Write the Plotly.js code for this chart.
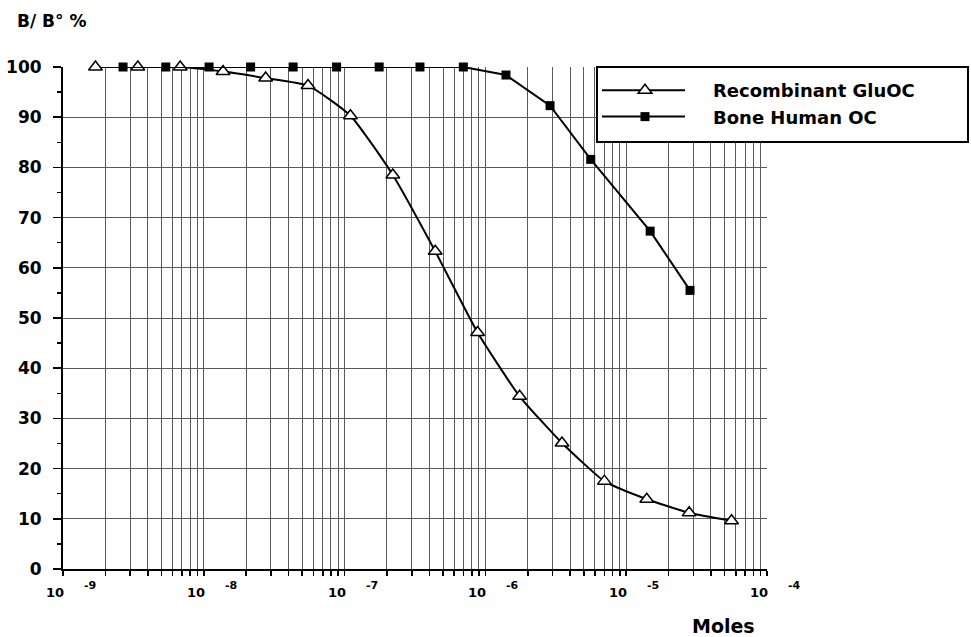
<!DOCTYPE html>
<html><head><meta charset="utf-8">
<script src="https://cdn.plot.ly/plotly-3.0.1.min.js"></script>
<style>html,body{margin:0;padding:0;background:#fff}</style>
</head><body><div id="chart" style="width:971px;height:637px"></div>
<script>
// ---- data ----
const recombX = [1.7e-9, 3.4e-9, 6.8e-9, 1.37e-8, 2.75e-8, 5.5e-8, 1.1e-7, 2.2e-7, 4.4e-7, 8.8e-7, 1.75e-6, 3.5e-6, 7.0e-6, 1.4e-5, 2.8e-5, 5.6e-5];
const recombY = [100, 100, 100, 99.1, 97.8, 96.3, 90.3, 78.5, 63.3, 47.1, 34.4, 25.1, 17.5, 13.9, 11.2, 9.6];
const boneX = [2.67e-9, 5.37e-9, 1.09e-8, 2.15e-8, 4.31e-8, 8.77e-8, 1.76e-7, 3.43e-7, 6.97e-7, 1.40e-6, 2.88e-6, 5.6e-6, 1.48e-5, 2.84e-5];
const boneY = [100, 100, 100, 100, 100, 100, 100, 100, 100, 98.4, 92.3, 81.6, 67.3, 55.5];
const seriesNames = ['Recombinant GluOC', 'Bone Human OC'];
const decadeExps = [-9, -8, -7, -6, -5, -4];
const decadeBase = '10';
const decadeExpText = ['-9', '-8', '-7', '-6', '-5', '-4'];
const yTickVals = [0, 10, 20, 30, 40, 50, 60, 70, 80, 90, 100];
const yTitleText = 'B/ B° %';
const xTitleText = 'Moles';

const FF = 'DejaVu Sans';
// grid positions on the log axis (every 1..9 within each decade)
const gridVals = [];
for (let i = 0; i < decadeExps.length - 1; i++) {
  for (let m = 1; m <= 9; m++) gridVals.push(m * Math.pow(10, decadeExps[i]));
}
gridVals.push(Math.pow(10, decadeExps[decadeExps.length - 1]));

const traces = [
  {
    x: recombX, y: recombY, name: seriesNames[0], type: 'scatter', mode: 'lines+markers', cliponaxis: false,
    line: {color: '#000', width: 2, shape: 'spline', smoothing: 0.5},
    marker: {symbol: 'triangle-up', size: 12, color: '#fff', line: {color: '#000', width: 1.5}}
  },
  {
    x: boneX, y: boneY, name: seriesNames[1], type: 'scatter', mode: 'lines+markers', cliponaxis: false,
    line: {color: '#000', width: 2},
    marker: {symbol: 'square', size: 9, color: '#000', line: {color: '#000', width: 0}}
  }
];

const annotations = [];
decadeExps.forEach((e, i) => {
  annotations.push({xref: 'x', yref: 'paper', x: e, y: -0.046, text: decadeBase, showarrow: false,
    xanchor: 'right', yanchor: 'middle', xshift: 3, font: {family: FF, size: 13, weight: 'bold', color: '#000'}});
  annotations.push({xref: 'x', yref: 'paper', x: e, y: -0.032, text: decadeExpText[i], showarrow: false,
    xanchor: 'left', yanchor: 'middle', xshift: 19, font: {family: FF, size: 11, weight: 'bold', color: '#000'}});
});
annotations.push({xref: 'paper', yref: 'paper', x: -0.068, y: 1.092, text: yTitleText, showarrow: false,
  xanchor: 'left', yanchor: 'middle', font: {family: FF, size: 17, weight: 'bold', color: '#000'}});
annotations.push({xref: 'paper', yref: 'paper', x: 0.9375, y: -0.113, text: xTitleText, showarrow: false,
  xanchor: 'center', yanchor: 'middle', font: {family: FF, size: 19, weight: 'bold', color: '#000'}});

const layout = {
  width: 971, height: 637,
  margin: {l: 63, r: 204, t: 67, b: 68, pad: 0},
  paper_bgcolor: '#fff', plot_bgcolor: '#fff',
  font: {family: FF, color: '#000', size: 14, weight: 'bold'},
  showlegend: true,
  xaxis: {
    type: 'log', range: [-9, -4], tickmode: 'array', tickvals: gridVals,
    showticklabels: false, ticks: 'outside', ticklen: 5, tickwidth: 1.5, tickcolor: '#000',
    showgrid: true, gridcolor: '#5a5a5a', gridwidth: 1,
    showline: true, linecolor: '#000', linewidth: 2, zeroline: false
  },
  yaxis: {
    range: [0, 100], tickmode: 'array', tickvals: yTickVals,
    ticks: 'outside', ticklen: 8, tickwidth: 1.5, tickcolor: '#000', ticklabelstandoff: 8,
    tickfont: {family: FF, size: 17, weight: 'bold', color: '#000'},
    showgrid: true, gridcolor: '#5a5a5a', gridwidth: 1,
    showline: true, linecolor: '#000', linewidth: 2, zeroline: false,
    minor: {dtick: 5, ticks: 'outside', ticklen: 4, tickcolor: '#000', tickwidth: 1.5, showgrid: false}
  },
  shapes: [
    {type: 'rect', xref: 'paper', yref: 'paper', x0: 0.7585, x1: 1.2855, y0: 0.8506, y1: 1.0,
     fillcolor: '#fff', line: {color: '#000', width: 2}, layer: 'above'}
  ],
  legend: {
    x: 0.7585, y: 0.99, xanchor: 'left', yanchor: 'top',
    bgcolor: 'rgba(0,0,0,0)', borderwidth: 0,
    font: {family: FF, size: 18, weight: 'bold', color: '#000'},
    itemwidth: 106, tracegroupgap: 0
  },
  annotations: annotations
};

Plotly.newPlot('chart', traces, layout, {staticPlot: true, displayModeBar: false}).then(gd => {
  gd.querySelectorAll('.legend .traces').forEach((t, i) => {
    t.querySelectorAll('.legendlines path').forEach(p => p.setAttribute('d', 'M5,0h83'));
    t.querySelectorAll('.legendpoints path').forEach(p => p.setAttribute('transform', 'translate(48,0)'));
  });
});
</script>
</body></html>
